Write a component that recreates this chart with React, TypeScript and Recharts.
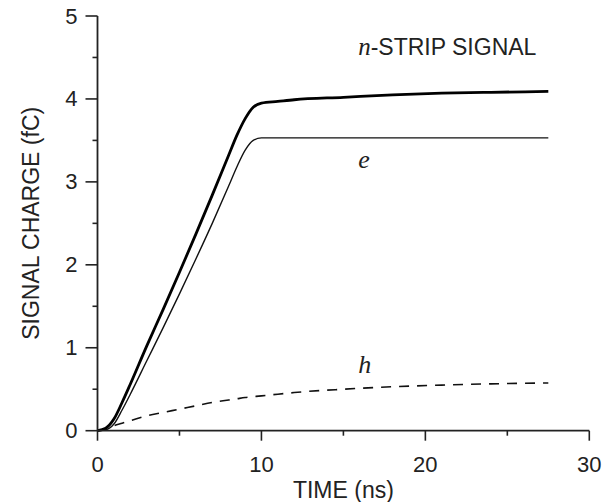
import { LineChart, Line, XAxis, YAxis, ReferenceDot, Label } from "recharts";

const TIME = [0, 0.5, 1, 1.5, 2, 3, 4, 5, 6, 7, 8, 8.5, 9, 9.5, 10, 11, 12, 15, 18, 21, 24, 27.5];
const TOTAL = [0, 0.03, 0.14, 0.34, 0.56, 1.02, 1.46, 1.91, 2.37, 2.84, 3.32, 3.56, 3.76, 3.9, 3.95, 3.97, 3.99, 4.02, 4.05, 4.07, 4.08, 4.09];
const ELECTRON = [0, 0.01, 0.08, 0.25, 0.44, 0.84, 1.24, 1.65, 2.07, 2.5, 2.95, 3.18, 3.38, 3.5, 3.53, 3.53, 3.53, 3.53, 3.53, 3.53, 3.53, 3.53];
const HOLE = [0, 0.02, 0.06, 0.09, 0.12, 0.18, 0.22, 0.26, 0.3, 0.34, 0.37, 0.385, 0.4, 0.41, 0.42, 0.44, 0.46, 0.5, 0.53, 0.55, 0.565, 0.575];

const X_TICKS = [0, 5, 10, 15, 20, 25, 30];
const Y_TICKS = [0, 0.5, 1, 1.5, 2, 2.5, 3, 3.5, 4, 4.5, 5];

const data = TIME.map((t, i) => ({ t, total: TOTAL[i], e: ELECTRON[i], h: HOLE[i] }));

const SANS = "'Liberation Sans', Arial, Helvetica, sans-serif";
const SERIF = "'Liberation Serif', 'DejaVu Serif', serif";
const INK = "#222";

const XTick = (props: any) => {
  const { x, y, payload } = props;
  const major = payload.value % 10 === 0;
  return (
    <g>
      <line x1={x} x2={x} y1={y} y2={y + (major ? 10 : 5)} stroke={INK} strokeWidth={1.6} />
      {major && (
        <text x={x} y={y + 41} textAnchor="middle" fontSize={22} fontFamily={SANS} fill={INK}>
          {payload.value}
        </text>
      )}
    </g>
  );
};

const YTick = (props: any) => {
  const { x, y, payload } = props;
  const major = Number.isInteger(payload.value);
  return (
    <g>
      <line x1={x} x2={x - (major ? 12 : 5)} y1={y} y2={y} stroke={INK} strokeWidth={1.6} />
      {major && (
        <text x={x - 20} y={y + 7.5} textAnchor="end" fontSize={22} fontFamily={SANS} fill={INK}>
          {payload.value}
        </text>
      )}
    </g>
  );
};

const YTitle = (props: any) => {
  const vb = props.viewBox;
  const cx = vb.x + 31;
  const cy = vb.y + vb.height / 2;
  return (
    <text
      x={cx}
      y={cy}
      transform={`rotate(-90, ${cx}, ${cy})`}
      textAnchor="middle"
      dominantBaseline="central"
      fontSize={23}
      fontFamily={SANS}
      fill={INK}
    >
      SIGNAL CHARGE (fC)
    </text>
  );
};

const SignalTitle = (props: any) => (
  <text x={props.cx} y={props.cy} fontSize={23} fontFamily={SANS} fill={INK}>
    <tspan fontFamily={SERIF} fontStyle="italic" fontSize={25}>n</tspan>-STRIP SIGNAL
  </text>
);

const Symbol = (name: string) => (props: any) => (
  <text x={props.cx} y={props.cy} fontSize={26} fontFamily={SERIF} fontStyle="italic" fill={INK}>
    {name}
  </text>
);

export default function App() {
  return (
    <div style={{ position: "absolute", left: 0, top: 0, width: 602, height: 502, background: "#fff" }}>
      <LineChart width={602} height={502} data={data} margin={{ top: 16, right: 12.7, bottom: 0, left: 0 }}>
        <XAxis
          type="number"
          dataKey="t"
          domain={[0, 30]}
          ticks={X_TICKS}
          tickSize={0}
          tickMargin={0}
          tickLine={false}
          tick={<XTick />}
          height={71.3}
          axisLine={{ stroke: INK, strokeWidth: 1.8 }}
        >
          <Label value="TIME (ns)" position="insideBottom" offset={4.5} fontSize={23} fontFamily={SANS} fill={INK} />
        </XAxis>
        <YAxis
          type="number"
          domain={[0, 5]}
          ticks={Y_TICKS}
          tickSize={0}
          tickMargin={0}
          tickLine={false}
          tick={<YTick />}
          width={97.5}
          axisLine={{ stroke: INK, strokeWidth: 1.8 }}
        >
          <Label content={<YTitle />} />
        </YAxis>
        <Line type="monotone" dataKey="h" stroke="#111" strokeWidth={1.6} strokeDasharray="10 8" dot={false} isAnimationActive={false} />
        <Line type="monotone" dataKey="e" stroke="#111" strokeWidth={1.4} dot={false} isAnimationActive={false} />
        <Line type="monotone" dataKey="total" stroke="#000" strokeWidth={2.8} dot={false} isAnimationActive={false} />
        <ReferenceDot x={15.9} y={4.53} r={0} shape={SignalTitle} ifOverflow="visible" />
        <ReferenceDot x={15.9} y={3.17} r={0} shape={Symbol("e")} ifOverflow="visible" />
        <ReferenceDot x={15.9} y={0.7} r={0} shape={Symbol("h")} ifOverflow="visible" />
      </LineChart>
    </div>
  );
}
